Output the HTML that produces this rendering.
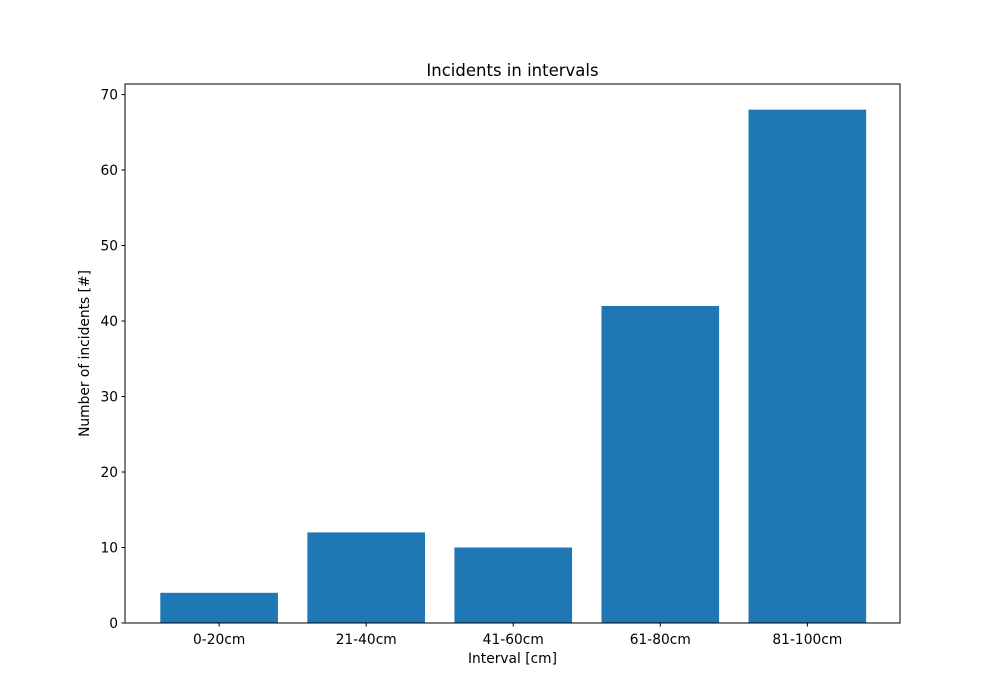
<!DOCTYPE html>
<html><head><meta charset="utf-8"><style>
html,body{margin:0;padding:0;background:#fff;}
svg{display:block;font-family:"DejaVu Sans","Liberation Sans",sans-serif;}
</style></head><body>
<svg id="chart" width="1000" height="700"></svg>
<script>
const categories = ["0-20cm","21-40cm","41-60cm","61-80cm","81-100cm"];
const values = [4,12,10,42,68];
const yTicks = [0,10,20,30,40,50,60,70];

const NS="http://www.w3.org/2000/svg";
const svg=document.getElementById('chart');
const L=125,R=900,T=84,B=623;
const yMax=71.4, xMin=-0.64, xMax=4.63;
const y=v=>B-(v/yMax)*(B-T);
const x=i=>L+(i-xMin)/(xMax-xMin)*(R-L);
function mk(tag,attrs,text){const e=document.createElementNS(NS,tag);for(const k in attrs)e.setAttribute(k,attrs[k]);if(text!==undefined)e.textContent=text;svg.appendChild(e);return e;}

const bw=0.8*(R-L)/(xMax-xMin);
values.forEach((v,i)=>{
  const r=mk('rect',{x:x(i)-bw/2,y:y(v),width:bw,height:B-y(v),fill:'#1f77b4'});
  
  
});
const frame=mk('rect',{x:L,y:T,width:R-L,height:B-T,fill:'none',stroke:'#000','stroke-width':1});



yTicks.forEach(t=>{
  mk('line',{x1:L-3.5,x2:L,y1:y(t),y2:y(t),stroke:'#000'});
  const tx=mk('text',{x:L-7,y:y(t)+5,'text-anchor':'end','font-size':13.8},String(t));
  
  
});
categories.forEach((c,i)=>{
  mk('line',{x1:x(i),x2:x(i),y1:B,y2:B+3.5,stroke:'#000'});
  const tx=mk('text',{x:x(i),y:B+21,'text-anchor':'middle','font-size':13.8},c);
  
  
});
const title=mk('text',{x:(L+R)/2,y:76,'text-anchor':'middle','font-size':16.5},'Incidents in intervals');


const xt=mk('text',{x:(L+R)/2,y:663,'text-anchor':'middle','font-size':13.8},'Interval [cm]');


const yt=mk('text',{x:0,y:0,'text-anchor':'middle','font-size':13.8,transform:'translate(89,'+((T+B)/2)+') rotate(-90)'},'Number of incidents [#]');


</script>
</body></html>
